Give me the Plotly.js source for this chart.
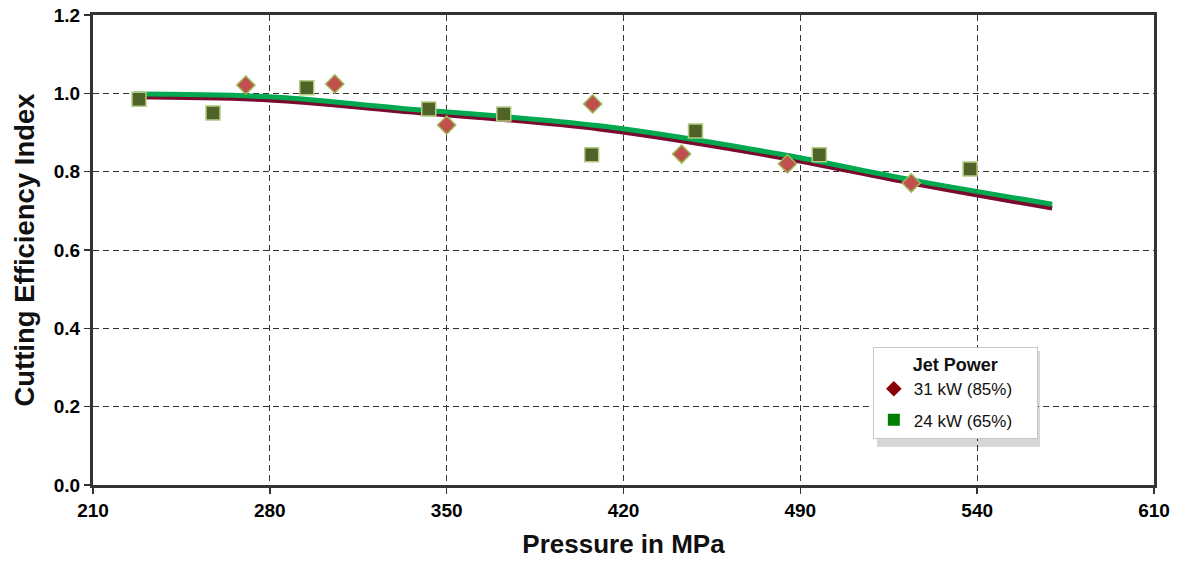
<!DOCTYPE html>
<html>
<head>
<meta charset="utf-8">
<script src="https://cdn.plot.ly/plotly-3.0.1.min.js"></script>
<style>html,body{margin:0;padding:0;background:#fff;}#chart{width:1182px;height:564px;}</style>
</head>
<body>
<div id="chart"></div>
<script>
// Tick positions (uniform axis) and their printed labels
const xTickVals = [210, 280, 350, 420, 490, 560, 630];
const xTickText = ['210', '280', '350', '420', '490', '540', '610'];
const yTickVals = [0, 0.2, 0.4, 0.6, 0.8, 1.0, 1.2];
const yTickText = ['0.0', '0.2', '0.4', '0.6', '0.8', '1.0', '1.2'];

// 31 kW (85%) measured points
const p31x = [270.5, 305.7, 350.0, 407.8, 443.0, 484.9, 533.9];
const p31y = [1.021, 1.024, 0.919, 0.973, 0.845, 0.820, 0.771];

// 24 kW (65%) measured points
const p24x = [228.2, 257.5, 294.6, 342.9, 372.6, 407.4, 448.5, 497.5, 557.2];
const p24y = [0.985, 0.950, 1.014, 0.960, 0.947, 0.843, 0.904, 0.843, 0.807];

// Trend lines
const trendX = [225.8, 280.0, 331.4, 410.5, 481.7, 533.9, 589.7];
const trend31y = [0.991, 0.983, 0.955, 0.909, 0.837, 0.771, 0.707];
const trend24y = [0.998, 0.991, 0.962, 0.917, 0.845, 0.779, 0.717];

const FAM = 'Liberation Sans, Arial, sans-serif';
const PAD = '\u00a0\u00a0\u00a0\u00a0';

const traces = [
  {x: trendX, y: trend31y, mode: 'lines', line: {color: '#7a0a2e', width: 5, shape: 'spline'}, showlegend: false, hoverinfo: 'skip'},
  {x: trendX, y: trend24y, mode: 'lines', line: {color: '#00a84f', width: 5, shape: 'spline'}, showlegend: false, hoverinfo: 'skip'},
  {x: p31x, y: p31y, mode: 'markers', showlegend: false,
   marker: {symbol: 'diamond', size: 14, color: '#c0504d', line: {color: '#9bbb59', width: 1.5}}},
  {x: p24x, y: p24y, mode: 'markers', showlegend: false,
   marker: {symbol: 'square', size: 14, color: '#4f6228', line: {color: '#b3cc82', width: 1.5}}},
  {x: [null], y: [null], mode: 'markers', name: '31 kW (85%)' + PAD, legendgroup: 'a',
   marker: {symbol: 'diamond', size: 12, color: '#8b0000'}},
  {x: [null], y: [null], mode: 'markers', name: '24 kW (65%)' + PAD, legendgroup: 'b',
   marker: {symbol: 'square', size: 12, color: '#008000'}}
];

const layout = {
  width: 1182, height: 564,
  margin: {l: 93, r: 28, t: 15, b: 79},
  paper_bgcolor: '#fff', plot_bgcolor: '#fff',
  font: {family: FAM, size: 19, color: '#000'},
  xaxis: {
    range: [210, 630], tickmode: 'array', tickvals: xTickVals, ticktext: xTickText.map(t => '<b>' + t + '</b>'),
    tickfont: {family: FAM, size: 19, color: '#000', weight: 'bold'},
    showgrid: true, gridcolor: '#333', griddash: '6px,4px', gridwidth: 1,
    showline: true, linecolor: '#333', linewidth: 3, mirror: true,
    ticks: 'outside', ticklen: 6, tickcolor: '#333', tickwidth: 1.5,
    zeroline: false,
    title: {text: '<b>Pressure in MPa</b>', font: {family: FAM, size: 26, color: '#111'}, standoff: 16}
  },
  yaxis: {
    range: [0, 1.2], tickmode: 'array', tickvals: yTickVals, ticktext: yTickText.map(t => '<b>' + t + '</b>'),
    tickfont: {family: FAM, size: 19, color: '#000', weight: 'bold'},
    showgrid: true, gridcolor: '#333', griddash: '6px,4px', gridwidth: 1,
    showline: true, linecolor: '#333', linewidth: 3, mirror: true,
    ticks: 'outside', ticklen: 6, tickcolor: '#333', tickwidth: 1.5,
    zeroline: false,
    title: {text: '<b>Cutting Efficiency Index</b>', font: {family: FAM, size: 27.5, color: '#111'}, standoff: 12}
  },
  legend: {
    x: 0.735, y: 0.294, xanchor: 'left', yanchor: 'top',
    bgcolor: '#fff', bordercolor: '#c8c8c8', borderwidth: 1,
    font: {family: FAM, size: 17, color: '#111'},
    title: {text: '<b>Jet Power</b>', side: 'top center', font: {family: FAM, size: 18, color: '#111'}},
    itemwidth: 30, traceorder: 'grouped', tracegroupgap: 6
  },
  shapes: [
    {type: 'rect', xref: 'paper', yref: 'paper', x0: 0.739, x1: 0.8925, y0: 0.081, y1: 0.285,
     fillcolor: 'rgba(0,0,0,0.16)', line: {width: 0}, layer: 'above'}
  ],
  showlegend: true
};

Plotly.newPlot('chart', traces, layout, {displayModeBar: false, staticPlot: true});
</script>
</body>
</html>
